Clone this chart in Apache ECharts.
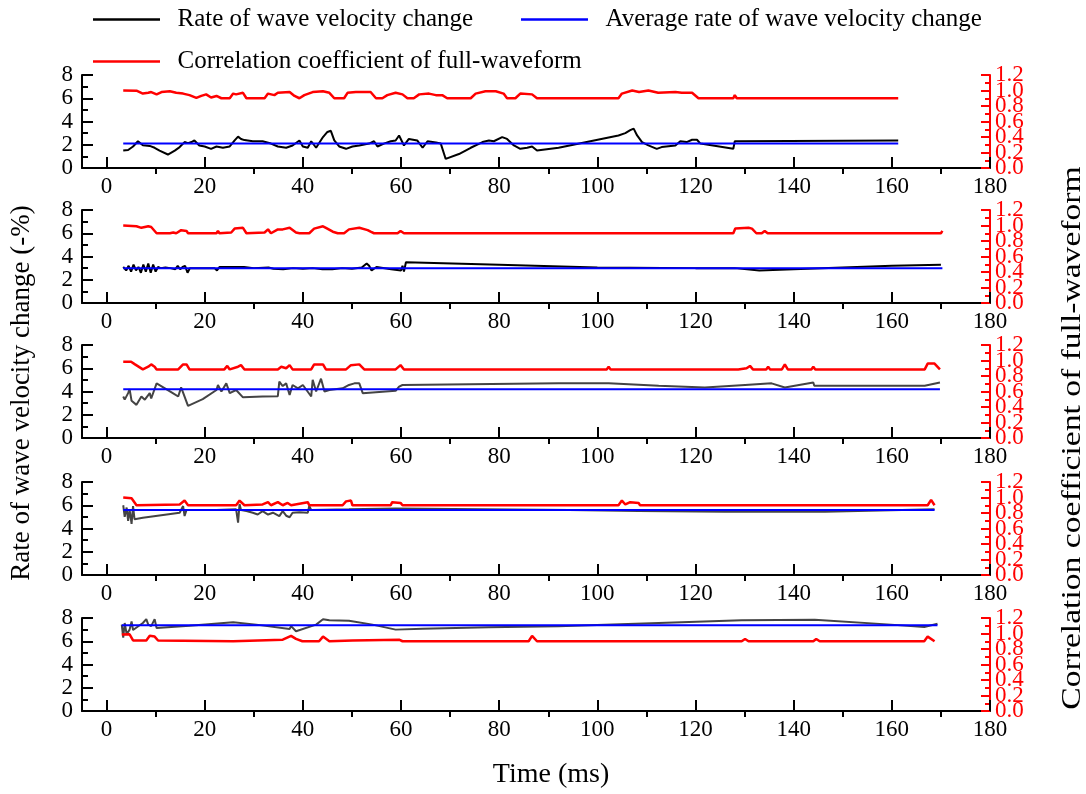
<!DOCTYPE html>
<html>
<head>
<meta charset="utf-8">
<script src="https://cdn.jsdelivr.net/npm/echarts@6/dist/echarts.min.js"></script>
<style>html,body{margin:0;padding:0;background:#fff}#c{width:1086px;height:794px}</style>
</head>
<body>
<div id="c"></div>
<script>
// ---------- DATA ----------
const xTickLabels = [0, 20, 40, 60, 80, 100, 120, 140, 160, 180];
const xMinorTicks = [10, 30, 50, 70, 90, 110, 130, 150, 170];
const rateName = 'Rate of wave velocity change';
const avgName = 'Average rate of wave velocity change';
const corrName = 'Correlation coefficient of full-waveform';

// Panel 1
const p1Rate = [[3.4,1.5],[4.4,1.55],[5.4,1.85],[6.4,2.3],[7.4,1.95],[8.8,1.9],[9.8,1.74],[10.8,1.5],[12.5,1.16],[13.9,1.5],[14.9,1.8],[15.9,2.23],[16.6,2.14],[17.3,2.23],[17.9,2.37],[18.9,1.94],[20.0,1.85],[21.3,1.65],[22.4,1.85],[23.7,1.74],[25.1,1.85],[26.1,2.37],[26.8,2.7],[27.4,2.5],[28.1,2.4],[29.8,2.3],[31.8,2.3],[33.5,2.1],[34.9,1.85],[36.6,1.74],[37.9,1.94],[39.3,2.37],[40.0,1.85],[41.0,1.74],[41.7,2.3],[42.7,1.74],[44.1,2.66],[45.0,3.1],[45.7,3.2],[46.4,2.37],[47.4,1.85],[48.8,1.65],[50.1,1.85],[51.5,1.94],[53.5,2.1],[54.5,2.3],[55.2,1.85],[56.5,2.1],[57.9,2.3],[58.9,2.37],[59.6,2.8],[60.6,1.94],[61.6,2.5],[63.3,2.37],[64.4,1.74],[65.4,2.3],[67.1,2.2],[68.1,2.1],[69.1,0.78],[71.8,1.2],[74.2,1.74],[76.6,2.23],[77.9,2.37],[78.9,2.3],[80.6,2.66],[81.6,2.5],[83.0,1.94],[84.3,1.65],[85.7,1.74],[86.7,1.85],[87.7,1.5],[92.1,1.74],[104.3,2.8],[105.7,3.0],[106.7,3.25],[107.4,3.39],[108.1,2.8],[109.1,2.23],[110.4,1.94],[112.1,1.65],[113.1,1.8],[115.9,1.94],[116.9,2.3],[118.2,2.23],[119.3,2.43],[120.3,2.43],[121.0,2.1],[127.7,1.65],[128.0,2.3],[161.3,2.37]];
const p1Avg = [[3.4,2.1],[161.3,2.1]];
const p1Corr = [[3.4,1.0],[6.1,0.997],[7.4,0.96],[8.5,0.97],[9.1,0.98],[10.2,0.95],[11.2,0.98],[12.9,0.99],[14.2,0.97],[15.6,0.96],[16.9,0.94],[18.3,0.905],[19.3,0.93],[20.3,0.95],[21.3,0.91],[22.4,0.93],[23.4,0.9],[25.1,0.9],[25.8,0.96],[26.4,0.95],[27.8,0.97],[28.5,0.9],[32.2,0.9],[32.9,0.96],[34.2,0.94],[34.9,0.97],[37.3,0.98],[38.3,0.93],[39.3,0.9],[40.3,0.94],[42.0,0.98],[44.1,0.99],[45.4,0.97],[46.4,0.9],[48.4,0.9],[49.1,0.97],[50.8,0.98],[53.8,0.98],[54.9,0.9],[56.2,0.9],[57.2,0.94],[58.9,0.97],[60.3,0.95],[61.3,0.9],[62.6,0.9],[63.7,0.95],[65.7,0.96],[67.1,0.94],[68.4,0.94],[69.4,0.9],[74.2,0.9],[75.2,0.96],[77.2,0.99],[79.3,0.99],[80.9,0.96],[81.6,0.9],[83.3,0.9],[84.3,0.96],[86.7,0.95],[87.7,0.9],[104.3,0.9],[105.0,0.96],[107.1,1.0],[108.5,0.98],[110.4,1.0],[112.4,0.97],[115.9,0.98],[117.2,0.97],[119.3,0.97],[120.6,0.9],[127.7,0.9],[128.0,0.94],[128.4,0.9],[161.3,0.9]];

// Panel 2
const p2Rate = [[3.4,3.1],[4,2.8],[4.5,3.2],[5,2.7],[5.5,3.3],[6,2.8],[6.5,3.1],[7,2.6],[7.5,3.3],[8,2.7],[8.5,3.4],[9,2.6],[9.5,3.3],[10,2.7],[10.5,3.1],[11,3.0],[12,3.05],[13,3.0],[14,2.9],[14.5,3.2],[15,2.9],[15.5,3.1],[16,3.2],[16.5,2.6],[17,3.0],[22,3.0],[22.5,2.8],[23,3.1],[28,3.1],[30,3.0],[33,3.05],[34,2.95],[36,2.9],[38,3.0],[40,2.95],[42,3.0],[44,2.9],[46,2.9],[48,3.0],[50,2.95],[52,3.05],[53,3.4],[53.5,3.2],[54,2.8],[55,3.1],[58,2.9],[60,2.8],[60.3,3.2],[60.6,2.7],[61,3.5],[80,3.3],[100,3.05],[120,3.0],[128,3.0],[133,2.8],[140,2.9],[150,3.05],[160,3.2],[170,3.3]];
const p2Avg = [[3.4,3.0],[170.3,3.0]];
const p2Corr = [[3.4,1.0],[6.1,0.99],[7.1,0.97],[8.5,0.99],[9.1,0.98],[10.2,0.9],[12.9,0.9],[13.6,0.91],[14.2,0.9],[15.2,0.94],[16.3,0.93],[16.6,0.9],[22.4,0.9],[22.7,0.93],[23.0,0.9],[25.4,0.91],[26.1,0.96],[27.8,0.97],[28.5,0.9],[32.2,0.91],[32.9,0.95],[33.5,0.9],[34.9,0.95],[35.9,0.95],[37.3,0.97],[38.6,0.91],[39.3,0.9],[41.3,0.9],[42.3,0.96],[44.1,0.99],[44.7,0.97],[46.1,0.92],[47.1,0.9],[48.4,0.9],[49.4,0.95],[51.5,0.97],[53.2,0.94],[53.8,0.92],[54.5,0.9],[59.3,0.9],[59.9,0.93],[60.6,0.9],[104.3,0.9],[104.7,0.92],[105.1,0.9],[127.7,0.9],[128.1,0.96],[130.8,0.97],[131.5,0.96],[132.4,0.9],[133.5,0.9],[134.1,0.93],[134.7,0.9],[170,0.9],[170.3,0.93]];

// Panel 3
const p3Rate = [[3.4,3.57],[3.7,3.3],[4.4,3.86],[4.7,4.2],[5.1,3.2],[6.1,2.85],[7.1,3.57],[7.8,3.3],[8.8,3.86],[9.1,3.4],[10.2,4.7],[11.9,4.27],[13.5,3.86],[14.6,3.57],[15.2,4.35],[16.6,2.77],[19.6,3.34],[22.4,4.13],[22.7,4.56],[23.4,4.0],[24.4,4.7],[25.1,3.86],[26.4,4.13],[27.8,3.5],[31.8,3.57],[34.9,3.6],[35.2,4.85],[35.9,4.47],[36.6,4.7],[37.3,3.7],[37.9,4.56],[39.0,4.27],[40.0,4.56],[41.7,3.57],[42.0,5.0],[42.7,4.0],[43.7,5.1],[44.4,4.0],[45.4,4.13],[48.1,4.27],[49.4,4.56],[50.5,4.7],[51.5,4.7],[52.2,3.86],[58.9,4.06],[59.6,4.42],[60.3,4.56],[60.6,4.7],[92.1,4.7],[102.3,4.7],[112.5,4.5],[121.9,4.35],[130.1,4.56],[135.5,4.7],[138.2,4.35],[144.0,4.77],[144.2,4.5],[166.7,4.5],[169.8,4.77]];
const p3Avg = [[3.4,4.2],[169.8,4.2]];
const p3Corr = [[3.4,0.985],[5.0,0.985],[5.8,0.95],[7.4,0.885],[8.5,0.92],[9.1,0.95],[9.8,0.92],[10.2,0.885],[14.6,0.885],[15.6,0.95],[16.3,0.95],[16.9,0.885],[24.0,0.885],[24.6,0.93],[25.1,0.885],[26.8,0.92],[27.4,0.94],[28.1,0.885],[34.9,0.885],[35.6,0.92],[36.6,0.9],[37.3,0.94],[37.9,0.885],[41.7,0.885],[42.3,0.95],[44.1,0.95],[44.7,0.885],[48.8,0.885],[49.8,0.94],[51.5,0.95],[52.5,0.885],[58.9,0.885],[59.9,0.94],[60.6,0.885],[101.9,0.885],[102.3,0.92],[102.7,0.885],[122.9,0.885],[123.3,0.91],[123.7,0.885],[128.7,0.885],[129.1,0.905],[130.4,0.9],[131.1,0.93],[131.7,0.885],[134.4,0.885],[134.8,0.92],[135.2,0.885],[137.6,0.885],[138.2,0.95],[138.8,0.885],[143.6,0.885],[144.0,0.92],[144.4,0.885],[166.7,0.885],[167.3,0.96],[168.7,0.96],[169.8,0.885]];

// Panel 4
const p4Rate = [[3.4,6.0],[3.7,5.0],[4.1,5.8],[4.4,4.65],[4.7,5.6],[5.1,4.4],[5.4,5.93],[5.7,4.8],[7.4,4.93],[14.9,5.36],[15.6,5.93],[15.9,5.07],[16.3,5.6],[22.4,5.6],[26.4,5.65],[26.8,4.5],[27.1,6.1],[27.4,5.6],[28.5,5.5],[29.8,5.36],[30.8,5.2],[31.8,5.5],[32.9,5.2],[33.9,5.36],[35.2,5.07],[35.9,5.5],[36.6,5.1],[37.3,4.97],[37.9,5.36],[39.3,5.4],[41.0,5.36],[41.3,5.93],[41.7,5.6],[49.4,5.65],[58.9,5.72],[94.2,5.6],[108.4,5.5],[126.0,5.45],[146.4,5.45],[168.7,5.65]];
const p4Avg = [[3.4,5.6],[168.7,5.6]];
const p4Corr = [[3.4,1.0],[5.1,0.99],[6.1,0.9],[14.9,0.91],[15.9,0.96],[16.6,0.9],[26.4,0.9],[27.1,0.96],[28.1,0.9],[31.8,0.91],[32.9,0.94],[33.5,0.9],[34.9,0.94],[35.9,0.9],[36.9,0.93],[37.6,0.9],[41.0,0.94],[41.3,0.9],[48.1,0.9],[48.8,0.95],[49.8,0.96],[50.1,0.9],[57.9,0.9],[58.2,0.94],[59.9,0.93],[60.3,0.9],[104.3,0.9],[105.0,0.96],[105.7,0.91],[106.7,0.94],[108.4,0.93],[108.7,0.9],[144.2,0.9],[144.6,0.92],[145.0,0.9],[167.3,0.9],[168.0,0.97],[168.7,0.9]];

// Panel 5
const p5Rate = [[3.1,7.43],[3.4,6.3],[3.7,7.57],[4.1,6.6],[4.7,7.0],[5.1,7.7],[5.4,6.97],[5.8,7.14],[7.4,7.57],[8.1,7.9],[8.5,7.43],[9.1,7.3],[9.8,7.9],[10.2,7.14],[16.9,7.34],[25.8,7.63],[30.5,7.43],[37.3,7.06],[37.6,7.3],[38.6,6.86],[42.7,7.43],[44.1,7.9],[45.4,7.8],[49.4,7.77],[54.2,7.43],[58.9,7.0],[64.4,7.08],[77.9,7.2],[92.1,7.3],[112.5,7.57],[129.4,7.8],[144.3,7.85],[144.6,7.7],[159.8,7.43],[166.6,7.23],[169.3,7.5]];
const p5Avg = [[3.1,7.37],[169.3,7.37]];
const p5Corr = [[3.1,0.986],[4.7,0.99],[5.4,0.91],[8.1,0.91],[8.8,0.97],[9.8,0.96],[10.5,0.91],[25.8,0.9],[35.9,0.92],[37.6,0.97],[38.6,0.93],[39.9,0.9],[43.3,0.9],[44.1,0.96],[45.4,0.9],[50.1,0.91],[59.6,0.92],[60.3,0.9],[86.0,0.9],[86.7,0.97],[87.7,0.9],[129.4,0.9],[130.1,0.93],[130.8,0.9],[144.0,0.9],[144.6,0.93],[145.3,0.9],[166.6,0.9],[167.3,0.96],[168.7,0.9]];

const rateData = [p1Rate, p2Rate, p3Rate, p4Rate, p5Rate];
const avgData = [p1Avg, p2Avg, p3Avg, p4Avg, p5Avg];
const corrData = [p1Corr, p2Corr, p3Corr, p4Corr, p5Corr];

// ---------- LAYOUT ----------
const FONT = "'Liberation Serif','Times New Roman',serif";
const tops = [75, 210, 345, 482, 618];
const PH = 93;
const rateColors = ['#000000', '#000000', '#444444', '#444444', '#444444'];
const corrLabelFmt = v => v.toFixed(1);

const grids = [], xAxes = [], yAxes = [], series = [];
tops.forEach((t, i) => {
  // main panel grid (index 2i) and a label-only grid spanning 0.2..1.0 (index 2i+1)
  grids.push({ left: 82, right: 96, top: t, height: PH });
  grids.push({ left: 82, right: 96, top: t + PH / 6, height: PH * 2 / 3 });

  xAxes.push({
    type: 'value', gridIndex: 2 * i, min: -5, max: 180,
    axisLine: { onZero: false, lineStyle: { color: '#000', width: 2 } },
    axisTick: { inside: true, length: 11, lineStyle: { color: '#000', width: 2 }, customValues: xTickLabels },
    axisLabel: { customValues: xTickLabels, color: '#000', fontFamily: FONT, fontSize: 23, margin: 7 },
    splitLine: { show: false }
  });
  xAxes.push({
    type: 'value', gridIndex: 2 * i, min: -5, max: 180,
    axisLine: { show: false },
    axisTick: { inside: true, length: 6, lineStyle: { color: '#000', width: 2 }, customValues: xMinorTicks },
    axisLabel: { show: false },
    splitLine: { show: false }
  });
  xAxes.push({
    type: 'value', gridIndex: 2 * i + 1, min: -5, max: 180, show: false
  });

  yAxes.push({
    type: 'value', gridIndex: 2 * i, min: 0, max: 8, interval: 2, position: 'left',
    axisLine: { show: true, onZero: false, lineStyle: { color: '#000', width: 2 } },
    axisTick: { show: true, inside: true, length: 11, lineStyle: { color: '#000', width: 2 } },
    minorTick: { show: true, splitNumber: 2, length: 6, lineStyle: { color: '#000', width: 2 } },
    axisLabel: { color: '#000', fontFamily: FONT, fontSize: 23, margin: 9, showMinLabel: true, showMaxLabel: true },
    splitLine: { show: false }
  });
  // right axis: line + ticks (labels drawn by two label axes below)
  yAxes.push({
    type: 'value', gridIndex: 2 * i, min: 0, max: 1.2, interval: 0.2, position: 'right',
    axisLine: { show: true, onZero: false, lineStyle: { color: '#ff0000', width: 2 } },
    axisTick: { show: true, inside: true, length: 9, lineStyle: { color: '#ff0000', width: 2 } },
    minorTick: { show: true, splitNumber: 2, length: 5, lineStyle: { color: '#ff0000', width: 2 } },
    axisLabel: { show: false },
    splitLine: { show: false }
  });
  // right labels 0.0, 0.4, 0.8, 1.2
  yAxes.push({
    type: 'value', gridIndex: 2 * i, min: 0, max: 1.2, interval: 0.4, position: 'right',
    axisLine: { show: false, onZero: false }, axisTick: { show: false },
    axisLabel: { color: '#ff0000', fontFamily: FONT, fontSize: 23, margin: 5, showMinLabel: true, showMaxLabel: true, formatter: corrLabelFmt },
    splitLine: { show: false }
  });
  // right labels 0.2, 0.6, 1.0
  yAxes.push({
    type: 'value', gridIndex: 2 * i + 1, min: 0.2, max: 1.0, interval: 0.4, position: 'right',
    axisLine: { show: false, onZero: false }, axisTick: { show: false },
    axisLabel: { color: '#ff0000', fontFamily: FONT, fontSize: 23, margin: 5, showMinLabel: true, showMaxLabel: true, formatter: corrLabelFmt },
    splitLine: { show: false }
  });

  series.push({
    type: 'line', name: rateName, xAxisIndex: 3 * i, yAxisIndex: 4 * i, data: rateData[i],
    symbol: 'none', color: '#000', lineStyle: { color: rateColors[i], width: 2 }, z: 2
  });
  series.push({
    type: 'line', name: avgName, xAxisIndex: 3 * i, yAxisIndex: 4 * i, data: avgData[i],
    symbol: 'none', color: '#0000ff', lineStyle: { color: '#0000ff', width: 2 }, z: 3
  });
  series.push({
    type: 'line', name: corrName, xAxisIndex: 3 * i, yAxisIndex: 4 * i + 1, data: corrData[i],
    symbol: 'none', color: '#ff0000', lineStyle: { color: '#ff0000', width: 2.5 }, z: 4
  });
});

const legendText = { color: '#000', fontFamily: FONT, fontSize: 25 };
const legFmt = n => '  ' + n;
const legBase = { icon: 'rect', itemWidth: 67, itemHeight: 2.5, padding: 0, textStyle: legendText, formatter: legFmt };
const option = {
  animation: false,
  backgroundColor: '#fff',
  legend: [
    Object.assign({ data: [rateName], left: 93, top: 7 }, legBase),
    Object.assign({ data: [avgName], left: 521, top: 7 }, legBase),
    Object.assign({ data: [corrName], left: 93, top: 49 }, legBase)
  ],
  grid: grids,
  xAxis: xAxes,
  yAxis: yAxes,
  series: series,
  graphic: [
    { type: 'text', x: 22, y: 393, rotation: Math.PI / 2,
      style: { text: 'Rate of wave velocity change (-%)', fill: '#000', font: "27px 'Liberation Serif','Times New Roman',serif", align: 'center', verticalAlign: 'middle' } },
    { type: 'text', x: 1073, y: 438, rotation: Math.PI / 2, scaleX: 1.2,
      style: { text: 'Correlation coefficient of full-waveform', fill: '#000', font: "28px 'Liberation Serif','Times New Roman',serif", align: 'center', verticalAlign: 'middle' } },
    { type: 'text', x: 551, y: 775,
      style: { text: 'Time (ms)', fill: '#000', font: "28px 'Liberation Serif','Times New Roman',serif", align: 'center', verticalAlign: 'middle' } }
  ]
};
const chart = echarts.init(document.getElementById('c'), null, { renderer: 'canvas' });
chart.setOption(option);
</script>
</body>
</html>
